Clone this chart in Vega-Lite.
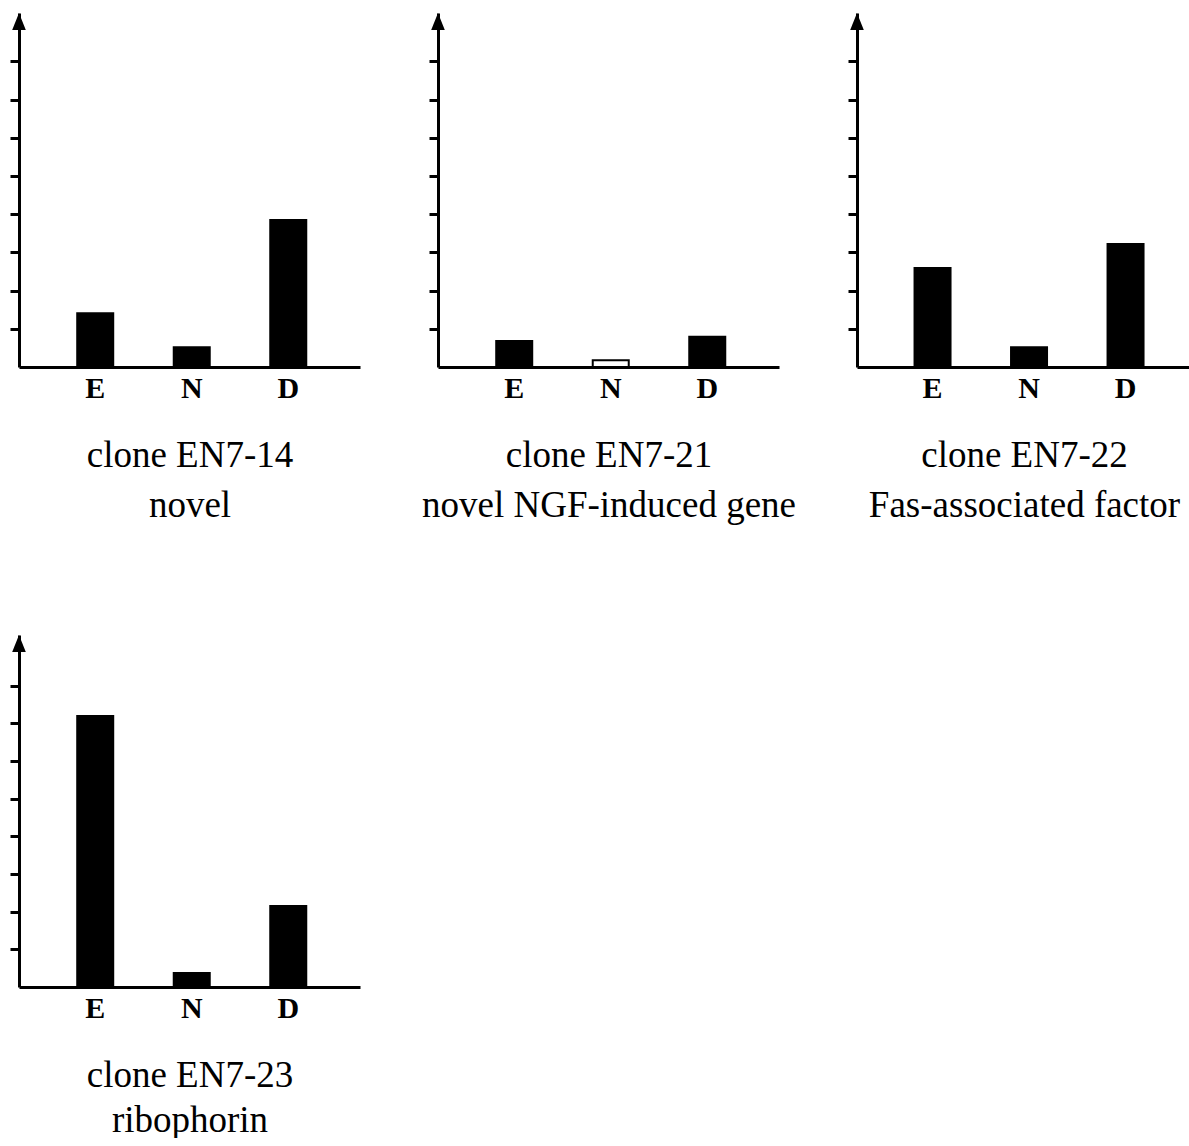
{
  "$schema": "https://vega.github.io/schema/vega-lite/v6.json",
  "padding": {"left": 8, "top": 13, "right": 0, "bottom": 0},
  "background": "white",
  "datasets": {
    "expr": [
      {"clone": "EN7-14", "sample": "E", "value": 1.41},
      {"clone": "EN7-14", "sample": "N", "value": 0.52},
      {"clone": "EN7-14", "sample": "D", "value": 3.85},
      {"clone": "EN7-21", "sample": "E", "value": 0.68},
      {"clone": "EN7-21", "sample": "N", "value": 0.18},
      {"clone": "EN7-21", "sample": "D", "value": 0.79},
      {"clone": "EN7-22", "sample": "E", "value": 2.59},
      {"clone": "EN7-22", "sample": "N", "value": 0.52},
      {"clone": "EN7-22", "sample": "D", "value": 3.22},
      {"clone": "EN7-23", "sample": "E", "value": 7.19},
      {"clone": "EN7-23", "sample": "N", "value": 0.37},
      {"clone": "EN7-23", "sample": "D", "value": 2.15}
    ]
  },
  "columns": 3,
  "spacing": {"row": 268, "column": 78},
  "bounds": "flush",
  "concat": [
    {
      "width": 341, "height": 354,
      "layer": [
        {
          "data": {"name": "expr"},
          "transform": [{"filter": "datum.clone === 'EN7-14'"}],
          "mark": {"type": "bar", "fill": "black", "stroke": "black", "strokeWidth": 2},
          "encoding": {
            "x": {"field": "sample", "type": "nominal", "sort": ["E", "N", "D"],
                  "scale": {"paddingInner": 0.627, "paddingOuter": 0.58, "align": 0.52},
                  "axis": {"title": ["clone EN7-14", "novel"], "titleLineHeight": 50}},
            "y": {"field": "value", "type": "quantitative", "scale": {"domain": [0, 9.27], "nice": false, "zero": true},
                  "axis": {"title": null, "values": [1, 2, 3, 4, 5, 6, 7, 8]}},
            "fill": {"condition": {"test": "datum.value < 0.3", "value": "white"}, "value": "black"}
          }
        },
        {
          "data": {"values": [{}]},
          "mark": {"type": "point", "shape": "M0,0L0.4,1L-0.4,1Z", "size": 1156, "filled": true, "fill": "black", "opacity": 1, "strokeWidth": 0},
          "encoding": {"x": {"value": 0}, "y": {"datum": 9.27, "type": "quantitative", "axis": {"title": null, "values": [1, 2, 3, 4, 5, 6, 7, 8]}}}
        }
      ]
    },
    {
      "width": 341, "height": 354,
      "layer": [
        {
          "data": {"name": "expr"},
          "transform": [{"filter": "datum.clone === 'EN7-21'"}],
          "mark": {"type": "bar", "fill": "black", "stroke": "black", "strokeWidth": 2},
          "encoding": {
            "x": {"field": "sample", "type": "nominal", "sort": ["E", "N", "D"],
                  "scale": {"paddingInner": 0.627, "paddingOuter": 0.58, "align": 0.52},
                  "axis": {"title": ["clone EN7-21", "novel NGF-induced gene"], "titleLineHeight": 50}},
            "y": {"field": "value", "type": "quantitative", "scale": {"domain": [0, 9.27], "nice": false, "zero": true},
                  "axis": {"title": null, "values": [1, 2, 3, 4, 5, 6, 7, 8]}},
            "fill": {"condition": {"test": "datum.value < 0.3", "value": "white"}, "value": "black"}
          }
        },
        {
          "data": {"values": [{}]},
          "mark": {"type": "point", "shape": "M0,0L0.4,1L-0.4,1Z", "size": 1156, "filled": true, "fill": "black", "opacity": 1, "strokeWidth": 0},
          "encoding": {"x": {"value": 0}, "y": {"datum": 9.27, "type": "quantitative", "axis": {"title": null, "values": [1, 2, 3, 4, 5, 6, 7, 8]}}}
        }
      ]
    },
    {
      "width": 334, "height": 354,
      "layer": [
        {
          "data": {"name": "expr"},
          "transform": [{"filter": "datum.clone === 'EN7-22'"}],
          "mark": {"type": "bar", "fill": "black", "stroke": "black", "strokeWidth": 2},
          "encoding": {
            "x": {"field": "sample", "type": "nominal", "sort": ["E", "N", "D"],
                  "scale": {"paddingInner": 0.627, "paddingOuter": 0.544, "align": 0.548},
                  "axis": {"title": ["clone EN7-22", "Fas-associated factor"], "titleLineHeight": 50}},
            "y": {"field": "value", "type": "quantitative", "scale": {"domain": [0, 9.27], "nice": false, "zero": true},
                  "axis": {"title": null, "values": [1, 2, 3, 4, 5, 6, 7, 8]}},
            "fill": {"condition": {"test": "datum.value < 0.3", "value": "white"}, "value": "black"}
          }
        },
        {
          "data": {"values": [{}]},
          "mark": {"type": "point", "shape": "M0,0L0.4,1L-0.4,1Z", "size": 1156, "filled": true, "fill": "black", "opacity": 1, "strokeWidth": 0},
          "encoding": {"x": {"value": 0}, "y": {"datum": 9.27, "type": "quantitative", "axis": {"title": null, "values": [1, 2, 3, 4, 5, 6, 7, 8]}}}
        }
      ]
    },
    {
      "width": 341, "height": 352,
      "layer": [
        {
          "data": {"name": "expr"},
          "transform": [{"filter": "datum.clone === 'EN7-23'"}],
          "mark": {"type": "bar", "fill": "black", "stroke": "black", "strokeWidth": 2},
          "encoding": {
            "x": {"field": "sample", "type": "nominal", "sort": ["E", "N", "D"],
                  "scale": {"paddingInner": 0.627, "paddingOuter": 0.58, "align": 0.52},
                  "axis": {"title": ["clone EN7-23", "ribophorin"], "titleLineHeight": 45}},
            "y": {"field": "value", "type": "quantitative", "scale": {"domain": [0, 9.34], "nice": false, "zero": true},
                  "axis": {"title": null, "values": [1, 2, 3, 4, 5, 6, 7, 8]}},
            "fill": {"condition": {"test": "datum.value < 0.3", "value": "white"}, "value": "black"}
          }
        },
        {
          "data": {"values": [{}]},
          "mark": {"type": "point", "shape": "M0,0L0.4,1L-0.4,1Z", "size": 1156, "filled": true, "fill": "black", "opacity": 1, "strokeWidth": 0},
          "encoding": {"x": {"value": 0}, "y": {"datum": 9.34, "type": "quantitative", "axis": {"title": null, "values": [1, 2, 3, 4, 5, 6, 7, 8]}}}
        }
      ]
    }
  ],
  "config": {
    "view": {"stroke": null},
    "axisX": {
      "domainColor": "black", "domainWidth": 3, "ticks": false, "tickSize": 0, "grid": false,
      "labelFont": "Liberation Serif", "labelFontSize": 30, "labelFontWeight": "bold", "labelColor": "black",
      "labelAngle": 0, "labelPadding": 6,
      "titleFont": "Liberation Serif", "titleFontSize": 37, "titleFontWeight": "normal", "titleColor": "black",
      "titlePadding": 34
    },
    "axisY": {
      "domainColor": "black", "domainWidth": 3, "ticks": true, "tickColor": "black", "tickWidth": 3, "tickSize": 9,
      "labels": false, "grid": false
    }
  }
}
